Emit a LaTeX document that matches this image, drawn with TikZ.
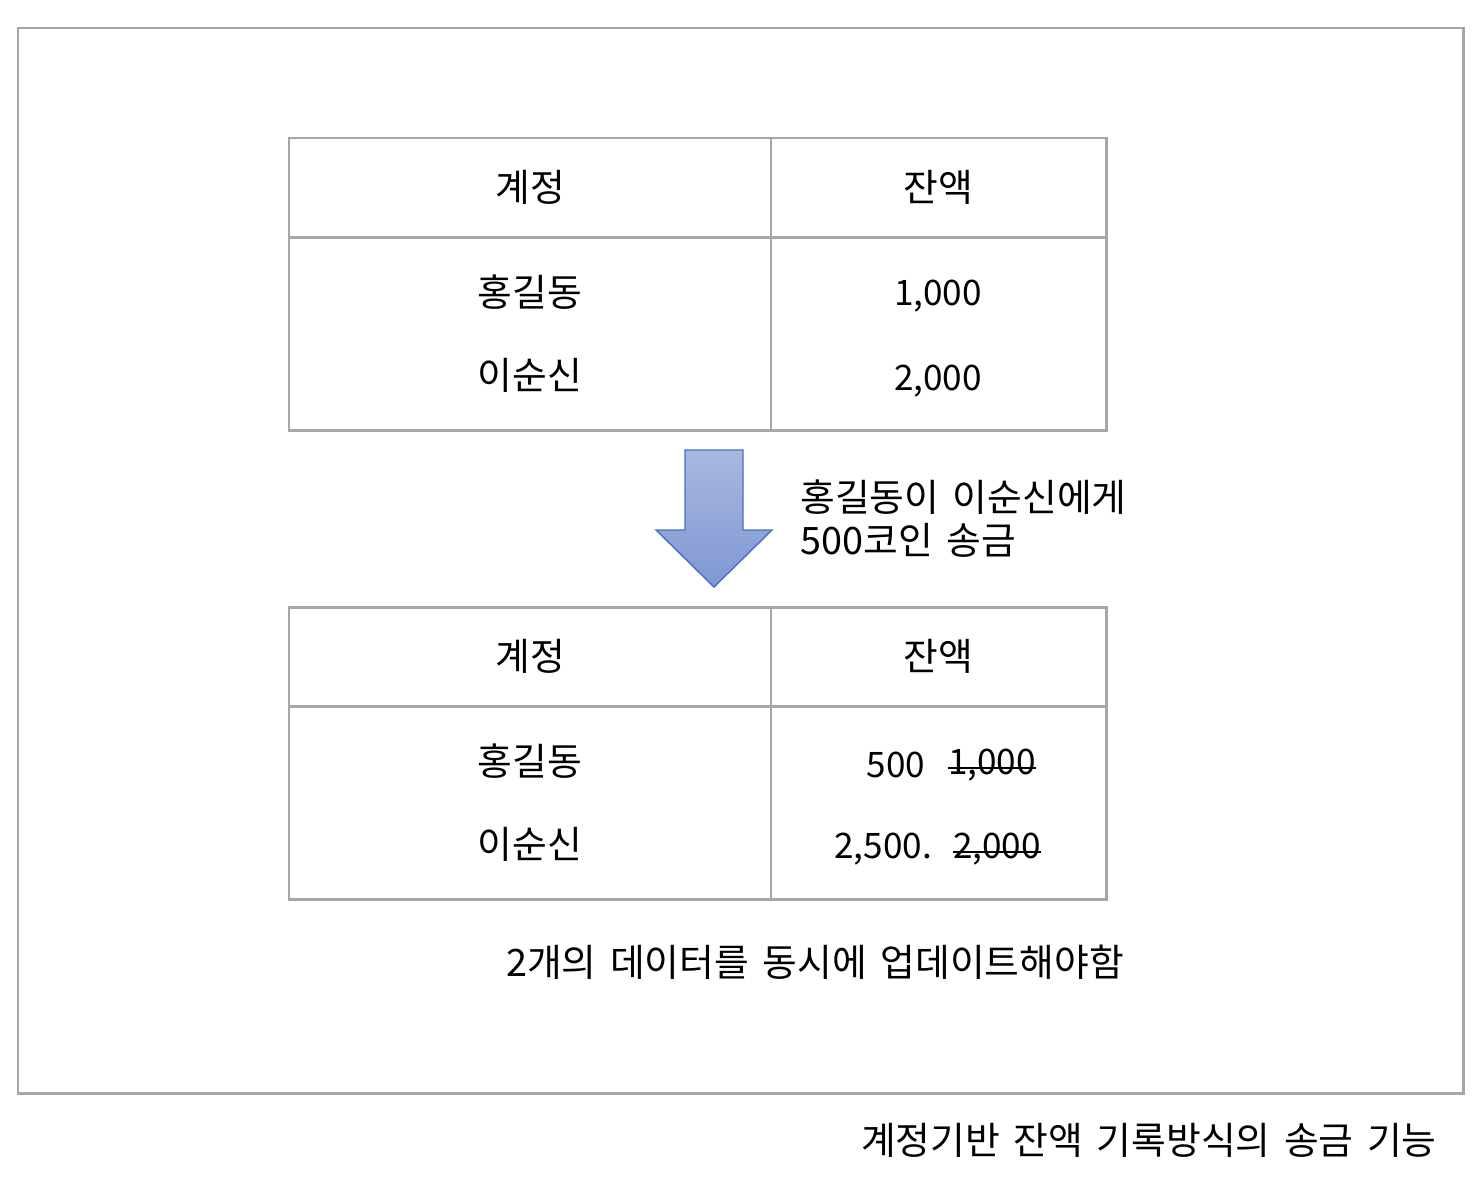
\documentclass[tikz,border=0pt]{standalone}
\usepackage{fontspec}
\setmainfont[WordSpace=1.6]{Noto Sans CJK KR}
\usepackage{xcolor}
\usepackage{tikz}
\usetikzlibrary{calc}
\usetikzlibrary{positioning}
\definecolor{framegray}{HTML}{A6A6A6}
\definecolor{arrowtop}{HTML}{AAB8E0}
\definecolor{arrowbot}{HTML}{7E97D3}
\definecolor{arrowline}{HTML}{4472C4}

\begin{document}
\begin{tikzpicture}[x=0.02cm,y=-0.02cm,font=\fontsize{21.5}{24.5}\selectfont]
 				 \tikzstyle{frame}=[draw=framegray, line width=1.7pt]
 				 \tikzstyle{cell}=[inner sep=0pt, text=black]
 				 \tikzstyle{num}=[cell, font=\fontsize{20}{24}\selectfont]
 				 \tikzstyle{strike}=[draw=black, line width=1pt]
 				 \useasboundingbox (0,0) rectangle (1482,1184);
 				 % outer frame
 				 \draw[frame] (18,28) rectangle (1463,1093);
 				 % table before
 				 \draw[frame] (289,138) rectangle (1106,430);
 				 \draw[frame] (289,237) -- (1106,237);
 				 \draw[frame] (771,138) -- (771,430);
 					 \node[cell] (acc1) at (530,187) {계정};
  					 \node[cell] (bal1) at (938,187) {잔액};
  					 \node[cell] (hong1) at (530,292) {홍길동};
  					 \node[cell] (lee1) at (530,375) {이순신};
  					 \node[num] (hongbal1) at (938,296) {1,000};
  					 \node[num] (leebal1) at (938,381) {2,000};
 				 % arrow
 				 \path[draw=arrowline, line width=0.8pt, top color=arrowtop, bottom color=arrowbot]
 				 		(685,450) -- (743,450) -- (743,530) -- (772,530) -- (714,587)
 				 		-- (656,530) -- (685,530) -- cycle;
 				 \node[cell, anchor=west, align=left] (send) at (800,519) {홍길동이 이순신에게\\500코인 송금};
 				 % table after
 				 \draw[frame] (289,607) rectangle (1106,899);
 				 \draw[frame] (289,706) -- (1106,706);
 				 \draw[frame] (771,607) -- (771,899);
 					 \node[cell] (acc2) at (530,656) {계정};
  					 \node[cell] (bal2) at (938,656) {잔액};
  					 \node[cell] (hong2) at (530,761) {홍길동};
  					 \node[cell] (lee2) at (530,844) {이순신};
  					 \node[num] (hongbal2) at (896,765) {500};
  					 \node[num] (hongold) at (992,765) {1,000};
  					 \node[num] (leebal2) at (883,849) {2,500.};
  					 \node[num] (leeold) at (997,849) {2,000};
  					 \draw[strike] ([yshift=0.36em]hongold.base west) -- ([yshift=0.36em]hongold.base east);
  					 \draw[strike] ([yshift=0.36em]leeold.base west) -- ([yshift=0.36em]leeold.base east);
 				 \node[cell] (note) at (815,962) {2개의 데이터를 동시에 업데이트해야함};
 				 \node[cell, anchor=east] (caption) at (1437,1140) {계정기반 잔액 기록방식의 송금 기능};
				\end{tikzpicture}
\end{document}
